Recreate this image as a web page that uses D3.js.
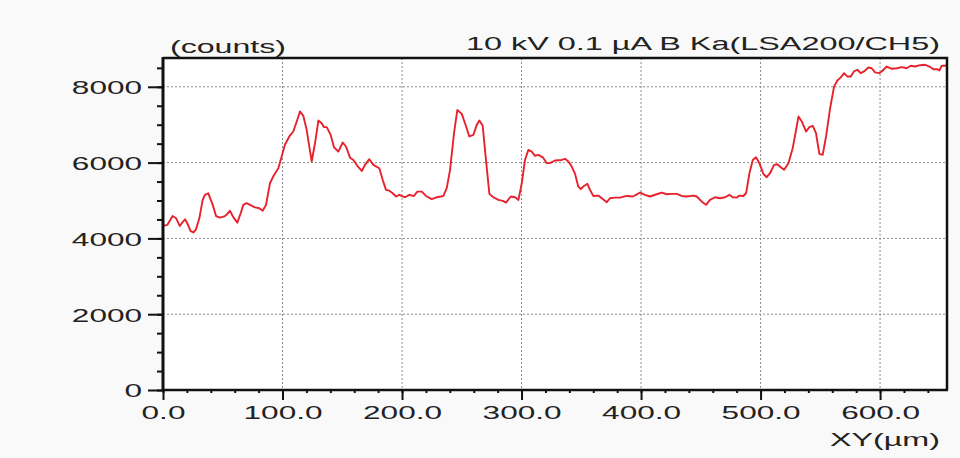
<!doctype html>
<html lang="">
    <head>
        <meta charset="utf-8">
        <title>Line analysis</title>
        <script src="https://d3js.org/d3.v7.min.js"></script>
        <style>
         body { margin: 0; background: #f9f9f9; }
         text { font-family: "Liberation Sans", Arial, sans-serif; fill: #222; }
        </style>
    </head>
    <body>
        <div id="main"></div>
    </body>

    <script type="text/javascript">
     // position along the scan (µm) and counts
     const xs = [0, 3.6, 8, 11, 14, 18.4, 20.3, 23, 25.4, 27.6, 30.4, 33.2, 35.1, 37.9, 41.6, 44.4, 47.7, 51.9,
                 53.8, 56, 58.8, 62.2, 65, 67.2, 70, 72.8, 77, 80.6, 83.4, 86.2, 89.5, 92.9, 96.5, 99.3, 102,
                 105.7, 109, 111.9, 114.6, 117.4, 120.2, 124.4, 127.2, 130, 132.8, 134.7, 137, 140.3, 143.1,
                 146.7, 150.4, 153.1, 156.5, 159.3, 162.6, 166.3, 169, 172.6, 176, 181, 183.8, 186.6, 189.4,
                 192.2, 195, 197.7, 202.5, 206.1, 210, 212.8, 216.5, 220.1, 224.8, 229, 232.4, 234.6, 237.4,
                 240.2, 243.5, 246.3, 250, 252.7, 256.3, 259.7, 262.5, 264.7, 267.5, 270.8, 273.1, 276.4,
                 280.6, 284.3, 287, 291, 294.6, 297.4, 300.2, 302.9, 305.7, 308.5, 311.3, 314.1, 317.8, 321.1,
                 323.8, 328, 333.6, 336.4, 339.2, 342, 344.8, 347.5, 349.5, 351.7, 355.1, 357.3, 360.1, 364.3,
                 367.1, 371.3, 374, 378.2, 382.4, 388, 393, 395.8, 399.2, 403.3, 407.5, 413.1, 417.3, 421.5,
                 425.7, 429.9, 434, 438.2, 443.8, 446.6, 450.8, 454.4, 457.7, 461.9, 466.1, 470.3, 473.9,
                 476.7, 480, 482.3, 485.6, 487.9, 490.7, 493.5, 496.2, 499, 502.4, 505.2, 507.9, 511.3, 514.1,
                 516.9, 519.7, 523.3, 526.9, 529.2, 531.7, 534.5, 538.1, 540.9, 543.7, 546.4, 549.2, 552,
                 554.8, 558.2, 561.5, 564.3, 567.1, 569.9, 572.7, 575.5, 578.2, 581, 583.8, 586.6, 590.2,
                 593, 595.8, 599.4, 602.3, 605.6, 609.8, 614, 618.2, 622.3, 625.7, 629.3, 633.5, 637.7,
                 641.3, 644.6, 648, 649.6, 651.6, 654.4, 655.8]
     const counts = [4330, 4355, 4590, 4530, 4330, 4505, 4400, 4200, 4155, 4240, 4530, 5015, 5150, 5190, 4885,
                     4590, 4550, 4590, 4645, 4730, 4560, 4415, 4665, 4885, 4930, 4885, 4820, 4795, 4730, 4885,
                     5455, 5675, 5850, 6160, 6470, 6690, 6820, 7085, 7350, 7235, 6865, 6030, 6510, 7110, 7040,
                     6935, 6935, 6730, 6405, 6290, 6530, 6425, 6130, 6070, 5915, 5780, 5940, 6090, 5940, 5850,
                     5545, 5280, 5260, 5190, 5105, 5150, 5085, 5150, 5120, 5235, 5235, 5120, 5035, 5085, 5105,
                     5120, 5325, 5810, 6775, 7390, 7285, 7040, 6690, 6730, 6995, 7110, 6970, 5895, 5175, 5085,
                     5015, 4990, 4945, 5105, 5085, 5015, 5455, 6070, 6335, 6290, 6180, 6205, 6140, 5985, 5985,
                     6055, 6070, 6100, 6030, 5895, 5700, 5370, 5300, 5370, 5440, 5280, 5120, 5130, 5060, 4955,
                     5060, 5075, 5075, 5120, 5105, 5150, 5210, 5150, 5105, 5165, 5210, 5165, 5175, 5175, 5120,
                     5105, 5130, 5105, 4970, 4885, 5015, 5085, 5060, 5085, 5150, 5085, 5075, 5130, 5120, 5190,
                     5720, 6070, 6140, 5985, 5700, 5615, 5720, 5940, 5955, 5880, 5810, 5985, 6380, 6775, 7215,
                     7085, 6820, 6935, 6970, 6775, 6230, 6205, 6690, 7435, 8005, 8165, 8250, 8360, 8270, 8270,
                     8405, 8450, 8360, 8405, 8510, 8490, 8380, 8360, 8430, 8535, 8475, 8490, 8520, 8490, 8555,
                     8535, 8570, 8580, 8535, 8465, 8465, 8430, 8555, 8555, 8580]

     const xTicks = [0, 100, 200, 300, 400, 500, 600]
     const yTicks = [0, 2000, 4000, 6000, 8000]
     const yLabel = '(counts)'
     const xLabel = 'XY(µm)'
     const title = '10 kV 0.1 µA B Ka(LSA200/CH5)'

     const W = 960, H = 458
     const margin = {top: 58, right: 13, bottom: 68, left: 163}
     const stretch = 1.66   // the original font is drawn wide

     const svg = d3.select('#main').append('svg')
                   .attr('width', W).attr('height', H)
                   .style('display', 'block')

     const x = d3.scaleLinear().domain([0, 656]).range([margin.left, W - margin.right])
     const y = d3.scaleLinear().domain([0, 8760]).range([H - margin.bottom, margin.top])

     svg.append('rect')
        .attr('x', margin.left).attr('y', margin.top)
        .attr('width', W - margin.left - margin.right)
        .attr('height', H - margin.top - margin.bottom)
        .attr('fill', '#fff')

     // dotted grid
     const grid = svg.append('g')
                     .attr('stroke', '#8a8a8a')
                     .attr('stroke-width', 1)
                     .attr('stroke-dasharray', '2,2')
     grid.selectAll('.gx').data(xTicks.slice(1)).enter().append('line')
         .attr('x1', d => x(d)).attr('x2', d => x(d))
         .attr('y1', y.range()[1]).attr('y2', y.range()[0])
     grid.selectAll('.gy').data(yTicks.slice(1)).enter().append('line')
         .attr('y1', d => y(d)).attr('y2', d => y(d))
         .attr('x1', x.range()[0]).attr('x2', x.range()[1])

     const line = d3.line()
                    .x(d => x(d[0]))
                    .y(d => y(d[1]))

     svg.append('path')
        .datum(d3.zip(xs, counts))
        .attr('d', line)
        .attr('fill', 'none')
        .attr('stroke', '#e8222c')
        .attr('stroke-width', 1.9)
        .attr('stroke-linejoin', 'round')

     // frame top / right
     svg.append('path')
        .attr('d', `M${x.range()[0]},${y.range()[1]}H${x.range()[1]}V${y.range()[0]}`)
        .attr('fill', 'none')
        .attr('stroke', '#111')
        .attr('stroke-width', 2.5)

     const widen = sel => sel.each(function () {
         const len = this.getComputedTextLength()
         d3.select(this).attr('textLength', len * stretch).attr('lengthAdjust', 'spacingAndGlyphs')
     })

     // x axis
     const xAxis = svg.append('g')
                      .attr('transform', `translate(0,${y.range()[0]})`)
                      .call(d3.axisBottom(x).tickValues(d3.range(0, 657, 20)).tickSize(3).tickFormat(''))
     xAxis.select('.domain').remove()
     xAxis.selectAll('.tick line').attr('stroke', '#111').attr('stroke-width', 2)
     const xMajor = svg.append('g')
                       .attr('transform', `translate(0,${y.range()[0]})`)
                       .call(d3.axisBottom(x).tickValues(xTicks).tickSize(10).tickPadding(5).tickFormat(d3.format('.1f')))
     xMajor.select('.domain').remove()
     xMajor.selectAll('.tick line').attr('stroke', '#111').attr('stroke-width', 2)
     xMajor.selectAll('.tick text')
           .attr('font-size', 19).attr('fill', '#222').attr('dy', '0.72em')
           .style('font-family', '"Liberation Sans", Arial, sans-serif')
           .call(widen)

     // y axis
     const yAxis = svg.append('g')
                      .attr('transform', `translate(${x.range()[0]},0)`)
                      .call(d3.axisLeft(y).tickValues(d3.range(0, 8760, 500)).tickSize(6).tickFormat(''))
     yAxis.select('.domain').remove()
     yAxis.selectAll('.tick line').attr('stroke', '#111').attr('stroke-width', 2)
     const yMajor = svg.append('g')
                       .attr('transform', `translate(${x.range()[0]},0)`)
                       .call(d3.axisLeft(y).tickValues(yTicks).tickSize(15).tickPadding(6).tickFormat(d3.format('d')))
     yMajor.select('.domain').remove()
     yMajor.selectAll('.tick line').attr('stroke', '#111').attr('stroke-width', 2)
     yMajor.selectAll('.tick text')
           .attr('font-size', 19).attr('fill', '#222').attr('dy', '0.36em')
           .style('font-family', '"Liberation Sans", Arial, sans-serif')
           .call(widen)

     // axis lines
     svg.append('line')
        .attr('x1', x.range()[0] - 1).attr('x2', x.range()[1] + 1)
        .attr('y1', y.range()[0]).attr('y2', y.range()[0])
        .attr('stroke', '#111').attr('stroke-width', 2.5)
     svg.append('line')
        .attr('x1', x.range()[0]).attr('x2', x.range()[0])
        .attr('y1', y.range()[1] - 1).attr('y2', y.range()[0] + 1)
        .attr('stroke', '#111').attr('stroke-width', 3)

     // labels
     svg.append('text').text(yLabel)
        .attr('x', 170).attr('y', 52.5)
        .attr('font-size', 19)
        .attr('textLength', 116).attr('lengthAdjust', 'spacingAndGlyphs')
     svg.append('text').text(title)
        .attr('x', 940).attr('y', 49.5)
        .attr('text-anchor', 'end')
        .attr('font-size', 19)
        .attr('textLength', 474).attr('lengthAdjust', 'spacingAndGlyphs')
     svg.append('text').text(xLabel)
        .attr('x', 940).attr('y', 446)
        .attr('text-anchor', 'end')
        .attr('font-size', 19)
        .attr('textLength', 110).attr('lengthAdjust', 'spacingAndGlyphs')
    </script>
</html>
